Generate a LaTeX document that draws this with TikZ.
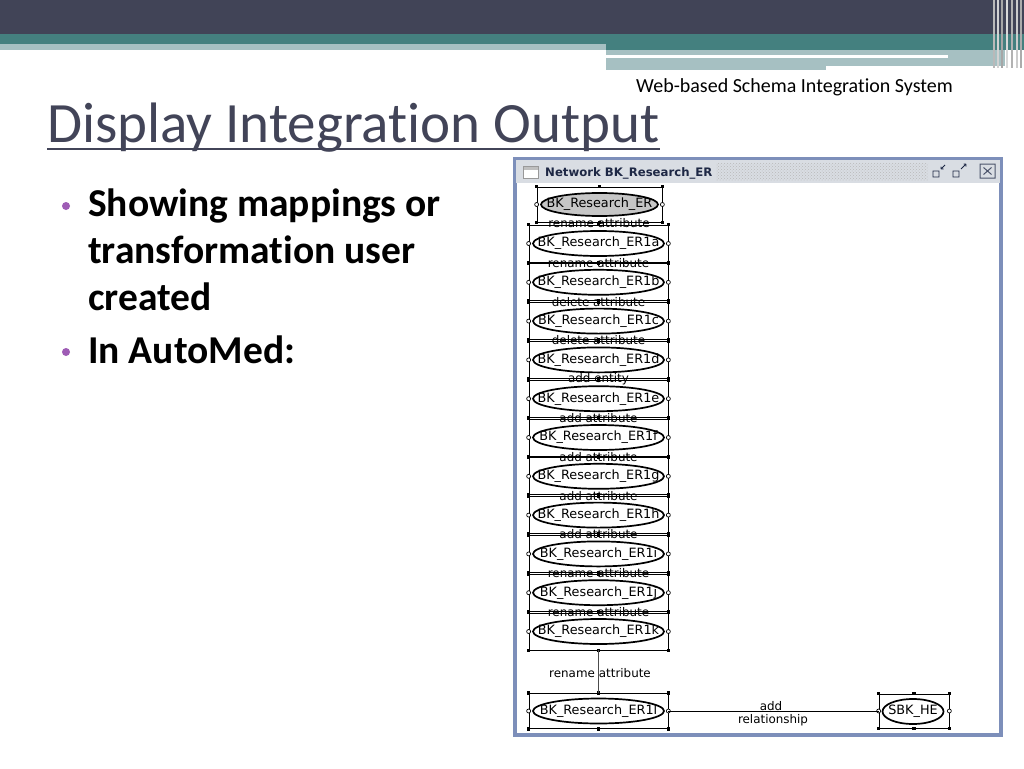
\documentclass[tikz,border=0pt]{standalone}
\usepackage{fontspec}
\setmainfont[Ligatures=NoCommon]{Carlito}
\newfontfamily\djfont{DejaVu Sans}
\usetikzlibrary{shapes.geometric,patterns,calc}
\definecolor{slate}{HTML}{414457}
\definecolor{tealb}{HTML}{44807F}
\definecolor{lteal}{HTML}{A6C0C2}
\definecolor{titlec}{HTML}{424458}
\definecolor{bulletc}{HTML}{9E5CB5}
\definecolor{winb}{HTML}{7D8FBA}
\definecolor{tbar}{HTML}{D9DDE3}
\definecolor{navy}{HTML}{1E2845}
\newcommand\zw[1]{\makebox[0pt]{#1}}
\newcommand\hdl[1]{%
  \foreach \a in {north west,north east,south west,south east,north,south}{\fill (#1.\a) +(-1.8,-1.8) rectangle +(1.8,1.8);}%
  \foreach \a in {west,east}{\draw[fill=white,line width=0.7] (#1.\a) circle (2);}%
}
\tikzset{
  ent/.style={ellipse, draw, line width=1.7, fill=white, minimum width=131, minimum height=25, inner sep=0, font=\djfont\fontsize{12.8}{12.8}\selectfont},
  selbox/.style={draw, line width=0.7, minimum width=139, minimum height=37, inner sep=0},
  lab/.style={font=\djfont\fontsize{11.9}{11.9}\selectfont, inner sep=0},
  conn/.style={line width=0.7},
}
\begin{document}
\begin{tikzpicture}[x=1pt,y=-1pt]
\useasboundingbox (0,0) rectangle (1024,768);
\fill[white] (0,0) rectangle (1024,768);
% banner
\fill[slate] (0,0) rectangle (1024,34);
\fill[tealb] (0,34) rectangle (1024,44);
\fill[lteal] (0,44) rectangle (606,50);
\fill[tealb] (606,44) rectangle (1024,50);
\fill[lteal] (606,50) rectangle (1005,66);
\fill[white] (606,55) rectangle (948,58);
\fill[lteal] (606,66) rectangle (826,70);
\foreach \x/\c in {993/gray!55,997/gray!35,1001/gray!70,1006/gray!30,1011/gray!60,1016/gray!40,1020/gray!65}{\fill[\c] (\x,0) rectangle ++(2,68);}
% titles
\node[anchor=base east, inner sep=0, font=\fontsize{20}{20}\selectfont] (sub) at (953,92) {Web-based Schema Integration System};
\node[anchor=base west, inner sep=0, text=titlec, font=\fontsize{57}{57}\selectfont] (ti) at (47,142) {Display Integration Output};
\draw[titlec, line width=2.5] ([yshift=-7]ti.base west) -- ([yshift=-7]ti.base east);
% bullets
\fill[bulletc] (66,206) circle (4);
\fill[bulletc] (66,352) circle (4);
\begin{scope}[every node/.style={anchor=base west, inner sep=0, font=\bfseries\fontsize{39.5}{39.5}\selectfont}]
\node (t1) at (88,216) {Showing mappings or};
\node (t2) at (88,263) {transformation user};
\node (t3) at (88,310) {created};
\node (t4) at (88,363) {In AutoMed:};
\end{scope}
% window
\fill[winb] (513,157) rectangle (1003,737);
\fill[tbar] (516,160) rectangle (1000,183);
\fill[pattern=crosshatch dots, pattern color=gray!55] (716,163) rectangle (928,180);
\fill[white] (517,183) rectangle (999,733);
\draw[gray!80, fill=white] (523,166) rectangle (538,178);
\fill[gray!50] (523.5,166.5) rectangle (537.5,169.5);
\node[anchor=base west, inner sep=0, text=navy, font=\djfont\bfseries\fontsize{11.7}{11.7}\selectfont] (wt) at (545,176) {Network BK\_Research\_ER};
\draw[navy, line width=0.8] (933,171) rectangle (939,177) (941,169) -- (945,165) (941,169) -- (941,166.5) (941,169) -- (943.5,169);
\draw[navy, line width=0.8] (953,171) rectangle (959,177) (961,169) -- (966,164) (966,164) -- (963.5,164) (966,164) -- (966,166.5);
\draw[navy!80, line width=1] (980,164) rectangle (995,178) (983.5,167.5) -- (991.5,174.5) (991.5,167.5) -- (983.5,174.5);
% nodes
\node[selbox, minimum width=125, minimum height=35] (b0) at (599.5,204.5) {};
\node[ent, fill=gray!45, minimum width=117, minimum height=23] (e0) at (599.5,204.5) {\zw{BK\_Research\_ER}};
\hdl{b0}
\foreach \i/\s/\yy in {1/a/243.5,2/b/282.3,3/c/321.1,4/d/359.9,5/e/398.7,6/f/437.5,7/g/476.3,8/h/515.1,9/i/553.9,10/j/592.7,11/k/631.5}{
  \node[selbox] (b\i) at (598.5,\yy) {};
  \node[ent] (e\i) at (598.5,\yy) {\zw{BK\_Research\_ER1\s}};
  \hdl{b\i}
}
\node[selbox, minimum height=35] (b12) at (598.5,711) {};
\node[ent] (e12) at (598.5,711) {\zw{BK\_Research\_ER1l}};
\hdl{b12}
\node[selbox, minimum width=70, minimum height=34] (bs) at (914,711) {};
\node[ent, minimum width=61] (es) at (913,711.5) {\zw{SBK\_HE}};
\hdl{bs}
% stacked connectors and labels
\foreach \i/\j/\t in {0/1/rename attribute,1/2/rename attribute,2/3/delete attribute,3/4/delete attribute,4/5/add entity,5/6/add attribute,6/7/add attribute,7/8/add attribute,8/9/add attribute,9/10/rename attribute,10/11/rename attribute}{
  \draw[conn] (b\i.south) -- (b\j.north);
  \node[lab] (l\i) at ($(b\i.south)!0.5!(b\j.north)$) {\t};
}
\draw[conn, gray!60!black] (b11.south) -- (b12.north);
\node[lab] (l11) at (600,673) {rename\hspace{4pt}attribute};
\draw[conn] (b12.east) -- (bs.west);
\node[lab] (lra) at (771,706) {add};
\node[lab] (lrb) at (773,720) {relationship};
\end{tikzpicture}
\end{document}
